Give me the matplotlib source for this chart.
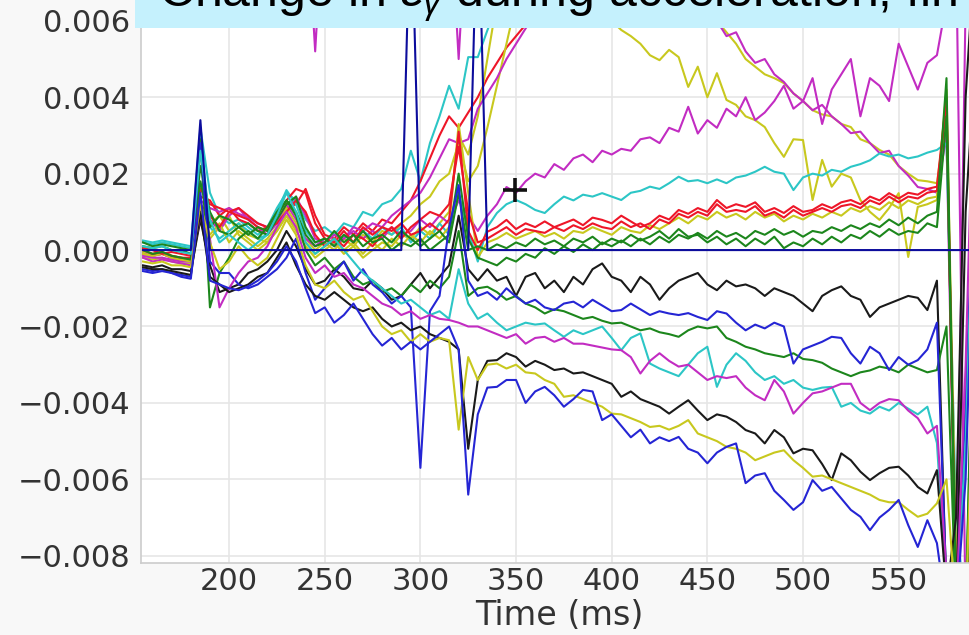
import matplotlib
matplotlib.use("Agg")
import matplotlib.pyplot as plt
from matplotlib.patches import Rectangle
from matplotlib.ticker import FuncFormatter

# sample times (ms)
time_ms = [155, 160, 165, 170, 175, 180, 185, 190, 195, 200, 205, 210,
           215, 220, 225, 230, 235, 240, 245, 250, 255, 260, 265, 270,
           275, 280, 285, 290, 295, 300, 305, 310, 315, 320, 325, 330,
           335, 340, 345, 350, 355, 360, 365, 370, 375, 380,
           385, 390, 395, 400, 405, 410, 415, 420, 425, 430,
           435, 440, 445, 450, 455, 460, 465, 470, 475, 480,
           485, 490, 495, 500, 505, 510, 515, 520, 525, 530,
           535, 540, 545, 550, 555, 560, 565, 570,
           575, 580, 585, 590]

# strain change of each trace, in units of 1e-3
navy_zero = [0, 0, 0, 0, 0, 0, 3.4, 0, 0, 0, 0, 0,
             0, 0, 0, 0, 0, 0, 0, 0, 0, 0, 0, 0,
             0, 0, 0, 0, 9.5, 0, 0, 0, 0, 0, 0, 9.5,
             0, 0, 0, 0, 0, 0, 0, 0, 0, 0,
             0, 0, 0, 0, 0, 0, 0, 0, 0, 0,
             0, 0, 0, 0, 0, 0, 0, 0, 0, 0,
             0, 0, 0, 0, 0, 0, 0, 0, 0, 0,
             0, 0, 0, 0, 0, 0, 0, 0,
             0, 0, 0, 0]
blue_mid = [-0.5, -0.55, -0.5, -0.6, -0.65, -0.7, 2.8, -0.3, -0.6, -0.6, -0.9, -1.0,
            -0.9, -0.7, -0.5, -0.2, 0.3, -0.6, -1.3, -1.0, -0.6, -0.3, -0.8, -0.5,
            -0.9, -1.1, -1.4, -1.2, -1.5, -5.7, -1.6, -1.2, 0.6, 1.7, -0.8, -1.2,
            -1.1, -1.3, -1.0, -1.22, -1.4, -1.3, -1.5, -1.57, -1.4, -1.35,
            -1.5, -1.3, -1.45, -1.6, -1.57, -1.4, -1.55, -1.7, -1.6, -1.66,
            -1.7, -1.65, -1.75, -1.83, -1.6, -1.66, -1.9, -2.1, -1.95, -2.05,
            -1.9, -2.0, -2.97, -2.6, -2.5, -2.4, -2.27, -2.3, -2.7, -2.97,
            -2.53, -2.7, -3.14, -2.8, -3.0, -2.88, -2.6, -1.9,
            -8.8, -9.5, -4.0, 3.0]
blue_low = [-0.55, -0.6, -0.55, -0.6, -0.7, -0.75, 1.5, -0.8, -0.9, -1.0, -1.05, -0.95,
            -0.8, -0.6, -0.3, 0.1, -0.3, -1.0, -1.65, -1.5, -1.9, -1.7, -1.4, -1.8,
            -2.2, -2.5, -2.3, -2.6, -2.4, -2.6, -2.4, -2.2, -2.0, -2.6, -6.4, -4.3,
            -3.6, -3.58, -3.4, -3.4, -4.0, -3.7, -3.58, -3.8, -4.1, -3.9,
            -3.66, -3.7, -4.45, -4.3, -4.6, -4.9, -4.7, -5.06, -4.9, -5.0,
            -4.89, -5.2, -5.3, -5.58, -5.3, -5.15, -5.06, -6.1, -5.9, -5.84,
            -6.3, -6.54, -6.8, -6.6, -6.02, -6.3, -6.2, -6.5, -6.8, -6.98,
            -7.33, -7.0, -6.8, -6.54, -7.2, -7.77, -7.07, -7.67,
            -9.5, -9.5, -6.0, 2.0]
black_up = [-0.4, -0.45, -0.4, -0.5, -0.5, -0.55, 0.8, -0.4, -1.1, -1.0, -0.9, -0.6,
            -0.5, -0.3, 0.0, 0.5, 0.1, -0.5, -0.9, -0.8, -0.5, -0.7, -1.0, -1.05,
            -0.8, -1.0, -1.3, -1.2, -0.9, -0.6, -1.0, -0.7, -0.4, 0.9, -0.5, -0.8,
            -0.5, -0.8, -0.7, -1.2, -0.7, -0.6, -1.0, -0.8, -1.1, -0.7,
            -0.9, -0.5, -0.35, -0.7, -0.8, -1.1, -0.7, -0.9, -1.3, -1.0,
            -0.8, -0.7, -0.6, -0.9, -1.05, -0.8, -0.95, -0.9, -1.0, -1.2,
            -1.0, -1.1, -1.2, -1.4, -1.6, -1.2, -1.05, -0.95, -1.2, -1.3,
            -1.75, -1.5, -1.4, -1.3, -1.2, -1.25, -1.57, -0.8,
            -9.0, -9.5, 1.0, 5.0]
black_low = [-0.45, -0.5, -0.5, -0.55, -0.6, -0.65, 1.0, -0.7, -0.9, -1.1, -1.0, -0.9,
             -0.7, -0.6, -0.2, 0.2, -0.4, -0.9, -1.2, -1.3, -1.1, -1.3, -1.5, -1.6,
             -1.5, -1.8, -2.0, -1.9, -2.1, -2.0, -2.2, -2.3, -2.4, -2.6, -5.2, -3.4,
             -2.9, -2.88, -2.7, -2.8, -3.05, -2.9, -3.0, -3.14, -3.1, -3.23,
             -3.2, -3.3, -3.4, -3.5, -3.84, -3.7, -3.9, -4.0, -4.1, -4.28,
             -4.1, -3.93, -4.2, -4.45, -4.3, -4.36, -4.5, -4.71, -4.8, -5.06,
             -4.71, -4.9, -5.32, -5.2, -5.24, -5.6, -6.02, -5.32, -5.5, -5.8,
             -6.02, -5.84, -5.7, -5.67, -5.9, -6.2, -6.37, -5.76,
             -9.0, -7.0, 4.0, 8.0]
yel_low = [-0.3, -0.35, -0.3, -0.4, -0.4, -0.45, 1.2, 0.2, -0.5, -0.3, 0.1, -0.2,
           -0.4, -0.2, 0.3, 0.8, 0.4, -0.4, -0.9, -1.0, -0.8, -1.1, -1.3, -1.2,
           -1.6, -2.0, -2.2, -2.1, -2.4, -2.2, -2.4, -2.3, -2.36, -4.7, -2.8, -3.4,
           -3.0, -2.97, -3.1, -3.0, -3.2, -3.23, -3.4, -3.5, -3.84, -3.8,
           -3.9, -4.0, -4.1, -4.28, -4.3, -4.4, -4.5, -4.63, -4.6, -4.7,
           -4.6, -4.45, -4.8, -4.9, -5.0, -5.15, -5.2, -5.3, -5.5, -5.4,
           -5.3, -5.24, -5.5, -5.7, -5.93, -5.9, -6.0, -6.1, -6.2, -6.3,
           -6.4, -6.54, -6.6, -6.6, -6.8, -6.98, -6.9, -6.63,
           -6.0, -9.5, -9.5, -2.0]
mag_low = [-0.2, -0.3, -0.25, -0.3, -0.35, -0.4, 0.9, 0.3, -1.5, -1.0, -0.6, -0.3,
           -0.2, 0.1, 0.6, 1.0, 0.6, -0.2, -0.6, -0.4, -0.7, -0.6, -0.9, -1.0,
           -1.2, -1.4, -1.5, -1.7, -1.6, -1.8, -1.7, -1.8, -1.83, -1.9, -2.0, -2.0,
           -2.1, -2.2, -2.3, -2.2, -2.45, -2.3, -2.27, -2.4, -2.3, -2.45,
           -2.45, -2.5, -2.55, -2.6, -2.62, -2.8, -3.23, -2.9, -2.7, -2.9,
           -3.05, -3.0, -3.2, -3.4, -3.3, -3.35, -3.3, -3.6, -3.8, -3.93,
           -3.4, -3.7, -4.28, -4.0, -3.75, -3.7, -3.6, -3.5, -3.5, -4.0,
           -4.19, -4.0, -3.9, -3.93, -4.2, -4.4, -4.8, -4.6,
           -8.5, -9.5, -3.0, 6.0]
cyan_low = [0.1, 0.05, 0.1, 0.0, -0.05, -0.1, 2.6, 0.8, 0.2, 0.4, 0.2, 0.0,
            0.2, 0.4, 0.9, 1.5, 1.0, 0.2, -0.1, 0.1, 0.3, 0.0, -0.3, -0.6,
            -0.8, -1.0, -1.2, -1.4, -1.3, -1.5, -1.7, -1.6, -1.8, -0.5, -1.4, -1.8,
            -1.66, -1.9, -2.1, -2.0, -1.9, -1.95, -1.92, -2.1, -2.27, -2.1,
            -2.2, -2.1, -2.0, -2.3, -2.62, -2.3, -2.18, -2.97, -3.1, -3.2,
            -3.3, -3.0, -2.7, -2.53, -3.58, -3.0, -2.7, -2.9, -3.2, -3.4,
            -3.3, -3.5, -3.4, -3.6, -3.66, -3.6, -3.58, -4.1, -4.0, -4.2,
            -4.28, -4.1, -4.2, -4.0, -4.15, -4.3, -4.1, -5.05,
            -9.0, -9.5, -5.0, 3.0]
green_low = [0.0, -0.1, -0.05, -0.15, -0.2, -0.25, 2.9, -1.5, -0.6, -0.2, 0.3, 0.5,
             0.3, 0.6, 1.0, 1.3, 0.9, 0.0, -0.4, -0.2, -0.5, -0.3, -0.7, -0.9,
             -0.8, -1.1, -1.0, -1.2, -0.9, -1.1, -0.8, -1.0, -0.7, 0.5, -1.2, -1.0,
             -0.96, -1.1, -1.3, -1.2, -1.4, -1.5, -1.66, -1.55, -1.6, -1.7,
             -1.8, -1.75, -1.85, -1.92, -1.9, -2.0, -2.1, -2.05, -2.15, -2.2,
             -2.27, -2.1, -2.0, -2.05, -2.0, -2.3, -2.4, -2.53, -2.6, -2.7,
             -2.75, -2.8, -2.7, -2.85, -2.88, -2.95, -3.1, -3.2, -3.3, -3.2,
             -3.15, -3.05, -3.1, -3.2, -3.0, -3.1, -3.2, -3.14,
             -2.0, -9.5, -9.5, 0.0]
green_up1 = [0.1, 0.05, 0.1, 0.0, 0.0, -0.1, 2.2, 1.0, 0.5, 0.4, 0.6, 0.7,
             0.5, 0.4, 0.8, 1.2, 1.4, 0.6, 0.2, 0.3, 0.1, 0.4, 0.2, 0.5,
             0.2, 0.3, 0.0, 0.2, 0.1, 0.3, 0.0, 0.2, 0.4, 2.0, 0.3, -0.2,
             -0.3, -0.4, -0.2, -0.3, -0.1, -0.2, 0.05, -0.1, 0.1, -0.05,
             0.15, 0.0, 0.2, 0.1, 0.25, 0.1, 0.3, 0.15, 0.35, 0.2,
             0.4, 0.3, 0.45, 0.3, 0.5, 0.35, 0.45, 0.3, 0.5, 0.4,
             0.55, 0.4, 0.5, 0.35, 0.5, 0.45, 0.6, 0.5, 0.65, 0.55,
             0.7, 0.6, 0.8, 0.65, 0.85, 0.7, 0.9, 1.0,
             4.5, -9.5, -9.5, -3.0]
green_up2 = [0.2, 0.1, 0.15, 0.1, 0.05, 0.0, 1.8, 0.6, 0.9, 0.8, 0.6, 0.4,
             0.6, 0.5, 0.9, 1.3, 1.0, 0.4, 0.1, 0.2, 0.5, 0.2, 0.4, 0.1,
             0.3, 0.4, 0.2, 0.5, 0.3, 0.1, 0.3, 0.5, 0.2, 1.5, 0.0, 0.1,
             0.0, 0.15, 0.05, 0.2, 0.1, 0.3, 0.15, 0.25, 0.1, 0.3,
             0.2, 0.35, 0.15, 0.3, 0.2, 0.4, 0.25, 0.35, 0.5, 0.3,
             0.55, 0.35, 0.4, 0.2, 0.35, 0.15, 0.3, 0.1, 0.3, 0.15,
             0.35, 0.05, 0.2, 0.1, 0.3, 0.15, 0.35, 0.2, 0.4, 0.3,
             0.5, 0.35, 0.55, 0.4, 0.5, 0.45, 0.7, 0.6,
             3.5, -9.0, -9.5, 1.0]
red1 = [0.0, -0.1, -0.05, -0.15, -0.2, -0.2, 1.6, 1.2, 1.1, 1.0, 0.9, 0.8,
        0.6, 0.5, 0.9, 1.3, 1.6, 1.5, 0.7, 0.3, 0.2, 0.5, 0.2, 0.6,
        0.4, 0.6, 0.5, 0.7, 0.4, 0.5, 0.7, 0.5, 0.8, 3.1, 0.5, 0.0,
        0.48, 0.6, 0.79, 0.55, 0.7, 0.6, 0.75, 0.6, 0.7, 0.8,
        0.65, 0.85, 0.79, 0.7, 0.9, 0.75, 0.6, 0.7, 0.9, 0.8,
        1.05, 0.95, 1.1, 1.0, 1.31, 1.1, 1.2, 1.13, 1.25, 1.0,
        1.1, 0.97, 1.15, 1.0, 1.05, 1.2, 1.1, 1.25, 1.31, 1.2,
        1.4, 1.3, 1.49, 1.35, 1.5, 1.45, 1.6, 1.66,
        4.0, -9.5, -9.5, -6.0]
red2 = [0.05, 0.0, -0.1, -0.05, -0.1, -0.15, 1.2, 0.9, 0.6, 1.0, 1.1, 0.9,
        0.7, 0.6, 0.7, 1.0, 1.3, 1.0, 0.4, 0.1, 0.3, 0.1, 0.4, 0.3,
        0.1, 0.4, 0.6, 0.3, 0.6, 0.8, 1.0, 0.9, 1.2, 2.7, 1.0, 0.2,
        0.3, 0.45, 0.6, 0.4, 0.55, 0.5, 0.45, 0.6, 0.5, 0.65,
        0.55, 0.7, 0.6, 0.55, 0.75, 0.6, 0.7, 0.55, 0.8, 0.7,
        0.95, 0.85, 1.0, 0.9, 1.2, 1.0, 1.05, 1.0, 1.15, 0.9,
        1.0, 0.85, 1.05, 0.9, 1.0, 1.1, 1.0, 1.15, 1.2, 1.1,
        1.3, 1.2, 1.4, 1.25, 1.4, 1.35, 1.5, 1.55,
        3.8, -9.0, -9.5, -4.0]
yel_mid = [-0.1, -0.15, -0.1, -0.2, -0.25, -0.3, 1.0, 0.4, 0.7, 0.2, 0.5, 0.3,
           0.1, 0.3, 0.6, 1.1, 0.7, 0.2, -0.1, 0.1, 0.3, 0.0, 0.2, -0.1,
           0.2, 0.0, 0.3, 0.1, 0.4, 0.2, 0.5, 0.3, 0.6, 3.3, 1.5, -0.2,
           0.2, 0.3, 0.45, 0.3, 0.4, 0.5, 0.35, 0.45, 0.3, 0.5,
           0.45, 0.6, 0.5, 0.4, 0.6, 0.5, 0.45, 0.65, 0.55, 0.7,
           0.85, 0.7, 0.9, 0.8, 1.0, 0.85, 0.95, 0.8, 1.0, 0.85,
           0.95, 0.75, 0.9, 0.8, 0.95, 0.85, 1.0, 0.9, 1.1, 1.0,
           1.15, 1.05, 1.25, 1.1, 1.3, 1.2, 1.35, 1.4,
           4.2, -8.0, -9.5, -9.5]
cyan_mid = [0.2, 0.15, 0.2, 0.15, 0.1, 0.05, 3.0, 0.6, 0.3, 0.5, 0.7, 0.5,
            0.3, 0.4, 1.0, 1.57, 1.2, 0.5, 0.2, 0.3, 0.1, 0.4, 0.2, 0.5,
            0.3, 0.6, 0.4, 0.6, 0.2, 0.5, 0.3, 0.7, 0.4, 1.5, 0.5, -0.3,
            0.6, 0.97, 1.2, 1.31, 1.2, 1.05, 0.97, 1.2, 1.4, 1.3,
            1.45, 1.4, 1.49, 1.4, 1.31, 1.5, 1.55, 1.66, 1.6, 1.75,
            1.92, 1.8, 1.83, 1.75, 1.85, 1.75, 1.9, 1.95, 2.05, 2.18,
            2.05, 2.0, 1.57, 1.9, 2.0, 1.95, 2.1, 2.05, 2.18, 2.25,
            2.35, 2.53, 2.45, 2.5, 2.4, 2.45, 2.55, 2.62,
            2.8, -7.0, -9.5, -9.5]
cyan_high = [0.25, 0.2, 0.25, 0.2, 0.15, 0.1, 3.2, 1.5, 0.9, 0.7, 0.8, 0.6,
             0.4, 0.6, 1.1, 1.5, 1.3, 0.8, 0.5, 0.6, 0.4, 0.7, 0.6, 1.0,
             0.9, 1.2, 1.3, 1.6, 2.6, 1.8, 2.8, 3.5, 4.3, 3.7, 5.05, 5.05,
             5.75, 6.4, 7.2, 8.0, 8.6, 9.0, 9.3, 9.5, 9.6, 9.7,
             9.8, 9.8, 9.8, 9.8, 9.8, 9.8, 9.8, 9.8, 9.8, 9.8,
             9.8, 9.8, 9.8, 9.8, 9.8, 9.8, 9.8, 9.8, 9.8, 9.8,
             9.8, 9.8, 9.8, 9.8, 9.8, 9.8, 9.8, 9.8, 9.8, 9.8,
             9.8, 9.8, 9.8, 9.8, 9.8, 9.8, 9.8, 9.8,
             9.8, 9.8, 9.8, 9.8]
red_rise = [-0.1, -0.15, -0.1, -0.2, -0.25, -0.3, 1.4, 1.3, 0.9, 1.1, 0.8, 0.7,
            0.5, 0.6, 0.7, 1.1, 1.2, 1.6, 0.9, 0.4, 0.3, 0.6, 0.4, 0.7,
            0.5, 0.8, 0.7, 1.0, 1.3, 1.8, 2.4, 3.0, 3.5, 3.2, 3.6, 4.0,
            4.5, 4.9, 5.3, 5.6, 5.9, 6.2, 6.5, 6.9, 7.3, 7.6,
            7.9, 8.2, 8.5, 8.7, 8.9, 9.0, 9.2, 9.3, 9.4, 9.5,
            9.6, 9.6, 9.7, 9.7, 9.8, 9.8, 9.8, 9.8, 9.9, 9.9,
            9.9, 9.9, 9.9, 9.9, 9.9, 9.9, 9.9, 9.9, 9.9, 9.9,
            9.9, 9.9, 9.9, 9.9, 9.9, 9.9, 9.9, 9.9,
            9.9, 9.9, 9.9, 9.9]
mag_slow = [-0.15, -0.2, -0.2, -0.25, -0.3, -0.3, 1.1, 0.8, 0.5, 0.9, 1.1, 0.8,
            0.6, 0.4, 0.7, 1.2, 0.8, 0.3, 0.1, 0.3, 0.1, 0.3, 0.5, 0.3,
            0.5, 0.3, 0.6, 0.4, 0.5, 0.8, 0.6, 0.9, 0.7, 1.3, 0.9, 0.5,
            0.9, 1.2, 1.65, 1.5, 1.8, 2.0, 1.9, 2.25, 2.1, 2.4,
            2.5, 2.3, 2.6, 2.5, 2.65, 2.6, 2.9, 2.95, 2.8, 3.2,
            3.1, 3.75, 3.05, 3.4, 3.2, 3.7, 3.5, 4.0, 3.4, 3.6,
            3.9, 4.3, 3.7, 3.9, 4.5, 3.3, 4.2, 4.6, 5.0, 3.5,
            4.5, 4.3, 3.9, 5.4, 4.8, 4.2, 4.9, 5.1,
            6.5, 8.0, -9.5, -9.5]
mag_arch = [-0.1, -0.15, -0.1, -0.2, -0.2, -0.25, 1.3, 1.1, 1.0, 1.1, 0.95, 0.85,
            0.7, 0.6, 0.8, 1.0, 1.4, 0.9, 0.3, 0.2, 0.4, 0.3, 0.6, 0.5,
            0.7, 0.6, 0.9, 1.1, 1.3, 1.5, 1.9, 2.4, 2.9, 2.8, 2.9, 3.7,
            4.1, 4.5, 5.0, 5.4, 5.8, 6.2, 6.6, 7.0, 7.3, 7.5,
            7.7, 7.8, 7.9, 8.0, 7.9, 7.8, 7.6, 7.5, 7.3, 7.1,
            6.9, 6.6, 6.7, 6.1, 6.0, 5.6, 5.7, 5.2, 4.9, 5.0,
            4.6, 4.4, 4.1, 3.9, 3.66, 3.8, 3.5, 3.3, 3.06, 3.1,
            2.8, 2.54, 2.6, 2.2, 1.95, 1.65, 1.6, 1.5,
            3.0, -9.5, 6.5, 9.0]
yel_paired = [-0.05, -0.1, -0.05, -0.15, -0.2, -0.25, 0.9, 0.7, 0.9, 0.5, 0.7, 0.4,
              0.3, 0.2, 0.5, 0.9, 0.6, 0.3, 0.0, 0.2, 0.0, 0.3, 0.1, 0.4,
              0.2, 0.5, 0.4, 0.7, 0.9, 1.2, 1.4, 1.8, 2.0, 2.8, 1.8, 2.2,
              3.2, 4.3, 5.4, 6.5, 7.3, 8.0, 8.5, 8.8, 9.0, 9.1,
              9.2, 9.2, 9.1, 9.0, 8.8, 8.5, 8.2, 7.8, 7.4, 7.0,
              6.7, 6.5, 6.3, 6.2, 6.0, 5.7, 5.4, 5.0, 4.8, 4.6,
              4.5, 4.37, 4.1, 3.9, 3.66, 3.55, 3.5, 3.3, 3.22, 2.9,
              2.8, 2.62, 2.5, 2.2, 2.0, 1.83, 1.8, 1.75,
              3.6, -9.0, -9.5, -9.5]
yel_arch = [-0.2, -0.25, -0.2, -0.3, -0.35, -0.35, 0.8, 0.3, 0.6, 0.9, 0.4, 0.2,
            0.0, 0.2, 0.5, 0.9, 0.5, 0.1, -0.2, 0.0, 0.2, -0.1, 0.1, -0.2,
            0.0, 0.2, 0.1, 0.4, 0.3, 0.6, 0.4, 0.7, 1.0, 3.0, 2.5, 3.5,
            5.0, 6.5, 7.5, 8.2, 8.6, 8.8, 8.9, 8.8, 8.5, 8.0,
            7.2, 6.6, 6.3, 6.0, 5.76, 5.6, 5.4, 5.1, 4.97, 5.24,
            5.05, 4.27, 4.8, 4.0, 4.63, 3.93, 3.8, 3.5, 3.4, 3.22,
            2.8, 2.44, 2.9, 2.88, 1.31, 2.36, 1.66, 2.0, 1.9, 1.31,
            1.0, 0.79, 1.1, 1.49, -0.18, 1.13, 1.2, 1.31,
            4.0, -9.5, -9.5, -2.0]
mag_high = [9.5, 9.5, 9.5, 9.5, 9.5, 9.5, 9.5, 9.5, 9.5, 9.5, 9.5, 9.5,
            9.5, 9.5, 9.5, 9.5, 9.5, 9.5, 5.2, 9.5, 9.5, 9.5, 9.5, 9.5,
            9.5, 9.5, 9.5, 9.5, 9.5, 9.5, 9.5, 9.5, 9.5, 5.0, 9.5, 9.5,
            9.5, 9.5, 9.5, 9.5, 9.5, 9.5, 9.5, 9.5, 9.5, 9.5,
            9.5, 9.5, 9.5, 9.5, 9.5, 9.5, 9.5, 9.5, 9.5, 9.5,
            9.5, 9.5, 9.5, 9.5, 9.5, 9.5, 9.5, 9.5, 9.5, 9.5,
            9.5, 9.5, 9.5, 9.5, 9.5, 9.5, 9.5, 9.5, 9.5, 9.5,
            9.5, 9.5, 9.5, 9.5, 9.5, 9.5, 9.5, 9.5,
            9.5, 9.5, 9.5, 9.5]

# cursor cross left on the plot
cursor_t = 349.5
cursor_v = 1.57

x_ticks = [200, 250, 300, 350, 400, 450, 500, 550]
y_ticks = [-0.008, -0.006, -0.004, -0.002, 0.0, 0.002, 0.004, 0.006]

BLUE = "#2525d4"
NAVY = "#0c0c9c"
GREEN = "#1c861c"
RED = "#ee1628"
CYAN = "#2cc6c6"
MAGENTA = "#c22cc2"
YELLOW = "#c8c81e"
BLACK = "#1a1a1a"

traces = [
    (mag_high, MAGENTA), (cyan_high, CYAN), (red_rise, RED),
    (yel_arch, YELLOW), (yel_paired, YELLOW), (mag_arch, MAGENTA),
    (mag_slow, MAGENTA), (cyan_mid, CYAN), (yel_mid, YELLOW),
    (red2, RED), (red1, RED), (green_up2, GREEN), (green_up1, GREEN),
    (black_up, BLACK), (green_low, GREEN), (blue_mid, BLUE),
    (cyan_low, CYAN), (mag_low, MAGENTA), (black_low, BLACK),
    (yel_low, YELLOW), (blue_low, BLUE), (navy_zero, NAVY),
]

plt.rcParams["font.family"] = "DejaVu Sans"
plt.rcParams["mathtext.fontset"] = "custom"
plt.rcParams["mathtext.rm"] = "Liberation Sans"
plt.rcParams["mathtext.it"] = "Liberation Sans:italic"

W, H = 969, 635
fig = plt.figure(figsize=(W / 100, H / 100), dpi=100, facecolor="#f8f8f8")
ax = fig.add_axes([140.7 / W, 72 / H, 836.4 / W, 563 / H])
ax.set_facecolor("white")

for values, color in traces:
    ax.plot(time_ms, [v * 1e-3 for v in values], color=color, lw=1.5)

ax.plot([cursor_t], [cursor_v * 1e-3], marker="+", ms=17, mew=2.6,
        color="#111111", zorder=5)

ax.set_xlim(153.8, 591)
ax.set_ylim(-8.19e-3, 6.545e-3)
ax.set_xticks(x_ticks)
ax.set_yticks(y_ticks)
ax.yaxis.set_major_formatter(
    FuncFormatter(lambda v, _: f"{v:.3f}".replace("-", "\u2212")))
ax.tick_params(length=0, labelsize=22, labelcolor="#333333")
ax.tick_params(axis="y", pad=7.5)
ax.tick_params(axis="x", pad=3)
ax.grid(True, color="#e6e6e6", lw=1.2)
ax.set_axisbelow(True)
for side in ("top", "right"):
    ax.spines[side].set_visible(False)
for side in ("left", "bottom"):
    ax.spines[side].set_color("#cccccc")
    ax.spines[side].set_linewidth(1.2)

ax.set_xlabel("Time (ms)", fontsize=24, color="#333333")
ax.xaxis.set_label_coords(0.5, -0.0925)
ax.xaxis.label.set_va("center")

# title banner across the top
fig.add_artist(Rectangle((135 / W, 1 - 28 / H), 1, 28 / H,
                         transform=fig.transFigure, facecolor="#c5f1fd",
                         edgecolor="none", zorder=2))
fig.text(158 / W, 1 - 7 / H,
         r"Change in ε$_\gamma$ during acceleration, fin k",
         fontsize=36, family="Liberation Sans", va="baseline", ha="left",
         zorder=3)

fig.savefig("out.png", dpi=100, facecolor=fig.get_facecolor())
plt.close(fig)
